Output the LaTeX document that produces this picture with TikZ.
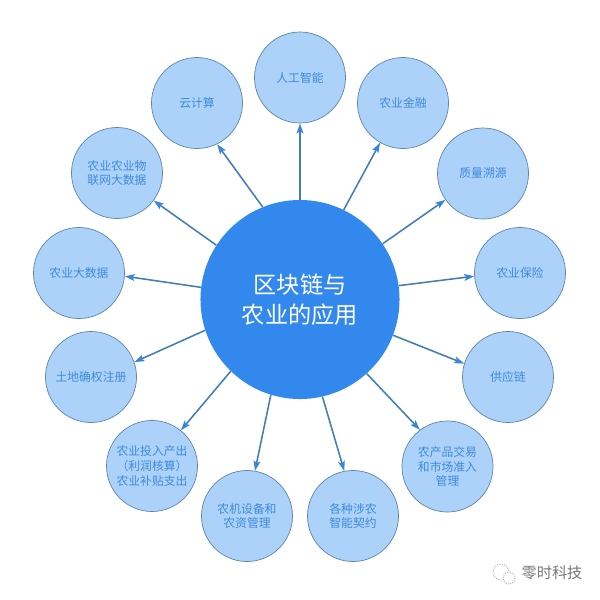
\documentclass[tikz,border=0pt]{standalone}
\usepackage{fontspec}
\setmainfont{Noto Sans CJK SC}
\usetikzlibrary{arrows.meta}
\definecolor{hubblue}{RGB}{51, 136, 238}
\definecolor{leafblue}{RGB}{172, 210, 250}
\definecolor{leafline}{RGB}{92, 132, 170}
\definecolor{leaftext}{RGB}{62, 138, 220}
\definecolor{linkblue}{RGB}{66, 125, 185}
\definecolor{headblue}{RGB}{56, 134, 220}
\definecolor{markgray}{RGB}{120, 120, 120}
\tikzset{
	hubnode/.style = {circle, fill=hubblue, text=white, minimum size=4.975cm, inner sep=0pt, align=center, font=\fontsize{16.5}{21.3}\selectfont},
	leaf/.style = {circle, draw=leafline, line width=0.5pt, fill=leafblue, text=leaftext, minimum size=2.275cm, inner sep=0pt, align=center, font=\fontsize{8.4}{10.6}\selectfont},
	link/.style = {draw=linkblue, line width=1.1pt, -{Stealth[length=2.5mm, width=1.7mm, inset=0.5mm, color=headblue]}},
}

\begin{document}
\begin{tikzpicture}[x=0.025cm, y=-0.025cm]
	\useasboundingbox (0,0) rectangle (600,600);
	\node[hubnode] (hub) at (300,299.5) {区块链与\\农业的应用};

	\node[leaf] (ai) at (300,77.5) {人工智能};
	\node[leaf] (finance) at (403,103) {农业金融};
	\node[leaf] (quality) at (483,173.5) {质量溯源};
	\node[leaf] (insurance) at (520,273) {农业保险};
	\node[leaf] (supply) at (508,377) {供应链};
	\node[leaf] (market) at (447.5,466.5) {农产品交易\\和市场准入\\管理};
	\node[leaf] (contract) at (353,516) {各种涉农\\智能契约};
	\node[leaf] (equip) at (247,516) {农机设备和\\农资管理};
	\node[leaf] (subsidy) at (152,466) {农业投入产出\\（利润核算）\\农业补贴支出};
	\node[leaf] (land) at (91,377) {土地确权注册};
	\node[leaf] (bigdata) at (79,273) {农业大数据};
	\node[leaf] (iot) at (117,173) {农业农业物\\联网大数据};
	\node[leaf] (cloud) at (197,103) {云计算};

	\draw[link] (hub.90) -- (ai.270);
	\draw[link] (hub.64.8) -- (finance.240.7);
	\draw[link] (hub.34.7) -- (quality.215.2);
	\draw[link] (hub.8.9) -- (insurance.184.5);
	\draw[link] (hub.339.7) -- (supply.163);
	\draw[link] (hub.312.4) -- (market.127.9);
	\draw[link] (hub.283.1) -- (contract.101.7);
	\draw[link] (hub.253) -- (equip.80);
	\draw[link] (hub.226.8) -- (subsidy.51.7);
	\draw[link] (hub.198.6) -- (land.19.6);
	\draw[link] (hub.173.4) -- (bigdata.356.3);
	\draw[link] (hub.147) -- (iot.323);
	\draw[link] (hub.112.4) -- (cloud.296.6);

	% corner mark
	\node[text=markgray, inner sep=0pt, font=\fontsize{10.8}{12}\selectfont] (mark) at (552,573) {零时科技};
	\draw[markgray!60, densely dotted, line width=0.7pt, fill=white] (501,572) circle (8);
	\draw[markgray!60, densely dotted, line width=0.7pt, fill=white] (509,578) circle (6);
\end{tikzpicture}
\end{document}
